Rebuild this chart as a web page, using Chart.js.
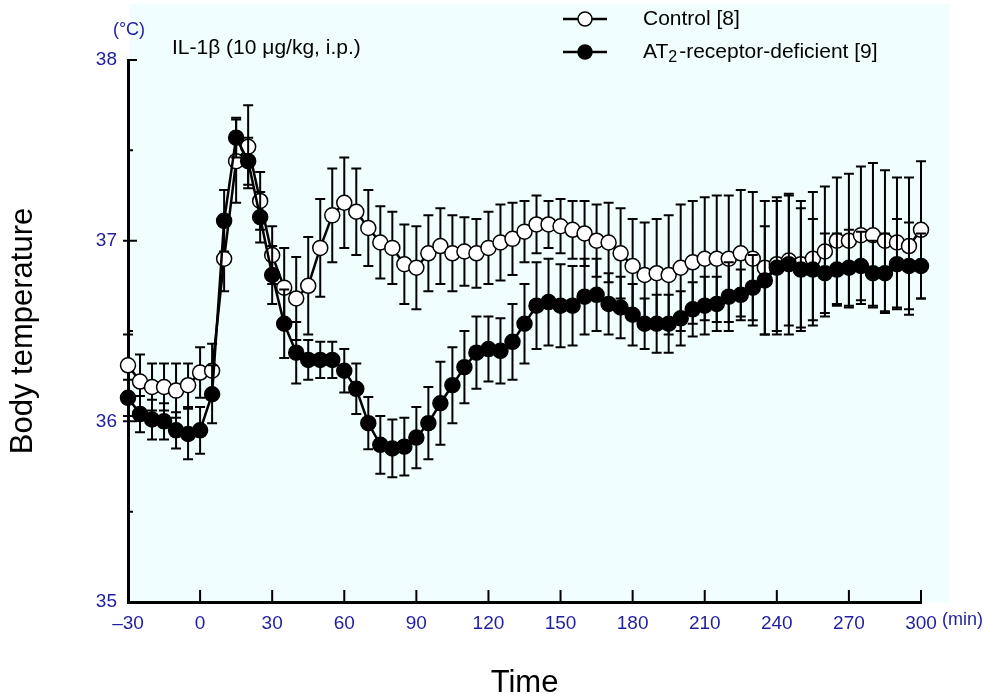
<!DOCTYPE html>
<html>
<head>
<meta charset="utf-8">
<script src="https://cdn.jsdelivr.net/npm/chart.js@4.4.1/dist/chart.umd.min.js"></script>
<style>
  html, body { margin: 0; padding: 0; background: #fff; }
  canvas { display: block; }
</style>
</head>
<body>
<canvas id="chart" width="985" height="697"></canvas>
<script>
// Time after IL-1β injection (min)
const times = [
  -30, -25, -20, -15, -10, -5, 0, 5, 10, 15, 20, 25, 30, 35, 40, 45, 50, 55, 60, 65,
  70, 75, 80, 85, 90, 95, 100, 105, 110, 115, 120, 125, 130, 135, 140, 145, 150, 155,
  160, 165, 170, 175, 180, 185, 190, 195, 200, 205, 210, 215, 220, 225, 230, 235, 240,
  245, 250, 255, 260, 265, 270, 275, 280, 285, 290, 295, 300
];

// Control [8]: mean and SEM (°C)
const controlMean = [
  36.31, 36.22, 36.19, 36.19, 36.17, 36.20, 36.27, 36.28, 36.90, 37.44, 37.52, 37.22, 36.92, 36.74, 36.68, 36.75, 36.96, 37.14, 37.21, 37.16,
  37.07, 36.99, 36.96, 36.87, 36.85, 36.93, 36.97, 36.93, 36.94, 36.93, 36.96, 36.99, 37.01, 37.05, 37.09, 37.09, 37.08, 37.06,
  37.04, 37.00, 36.99, 36.93, 36.86, 36.81, 36.82, 36.81, 36.85, 36.88, 36.90, 36.90, 36.90, 36.93, 36.90, 36.85, 36.87,
  36.89, 36.87, 36.90, 36.94, 37.00, 37.00, 37.03, 37.03, 37.00, 36.99, 36.97, 37.06
];
const controlSem = [
  0.17, 0.15, 0.13, 0.13, 0.15, 0.12, 0.14, 0.15, 0.18, 0.23, 0.23, 0.16, 0.16, 0.22, 0.23, 0.27, 0.27, 0.26, 0.25, 0.24,
  0.21, 0.20, 0.20, 0.22, 0.23, 0.21, 0.21, 0.21, 0.19, 0.19, 0.20, 0.21, 0.20, 0.17, 0.16, 0.13, 0.15, 0.16,
  0.18, 0.20, 0.22, 0.25, 0.26, 0.29, 0.30, 0.33, 0.35, 0.34, 0.34, 0.35, 0.35, 0.35, 0.37, 0.37, 0.37,
  0.36, 0.35, 0.37, 0.36, 0.35, 0.37, 0.38, 0.40, 0.39, 0.36, 0.38, 0.38
];

// AT2-receptor-deficient [9]: mean and SEM (°C)
const at2Mean = [
  36.13, 36.04, 36.01, 36.00, 35.95, 35.93, 35.95, 36.15, 37.11, 37.57, 37.44, 37.13, 36.81, 36.54, 36.38, 36.34, 36.34, 36.34, 36.28, 36.18,
  35.99, 35.87, 35.85, 35.86, 35.91, 35.99, 36.10, 36.20, 36.30, 36.38, 36.40, 36.39, 36.44, 36.54, 36.64, 36.66, 36.64, 36.64,
  36.69, 36.70, 36.65, 36.63, 36.59, 36.54, 36.54, 36.54, 36.57, 36.62, 36.64, 36.65, 36.69, 36.70, 36.74, 36.78, 36.85,
  36.87, 36.84, 36.84, 36.82, 36.84, 36.85, 36.86, 36.82, 36.82, 36.87, 36.86, 36.86
];
const at2Sem = [
  0.10, 0.10, 0.11, 0.10, 0.10, 0.14, 0.13, 0.16, 0.17, 0.11, 0.13, 0.14, 0.16, 0.19, 0.17, 0.11, 0.10, 0.10, 0.12, 0.14,
  0.145, 0.16, 0.16, 0.16, 0.17, 0.20, 0.23, 0.21, 0.20, 0.20, 0.18, 0.18, 0.21, 0.22, 0.24, 0.24, 0.23, 0.22,
  0.21, 0.20, 0.17, 0.17, 0.17, 0.14, 0.16, 0.16, 0.15, 0.15, 0.16, 0.15, 0.19, 0.14, 0.18, 0.30, 0.37,
  0.39, 0.34, 0.28, 0.22, 0.20, 0.21, 0.19, 0.18, 0.22, 0.25, 0.24, 0.18
];

const BLUE = '#1e1ea0';
const FONT = "'Liberation Sans', Arial, Helvetica, sans-serif";

// light panel behind the plot
const background = {
  id: 'background',
  beforeDraw(chart) {
    const {ctx, chartArea: a} = chart;
    ctx.save();
    ctx.fillStyle = '#f1fefe';
    ctx.fillRect(a.left + 1, 4, a.right - a.left + 27, a.bottom - 4);
    ctx.restore();
  }
};

// ticks: y crosses the axis, x points inward
const axisTicks = {
  id: 'axisTicks',
  beforeDatasetsDraw(chart) {
    const {ctx, scales: {x, y}, chartArea: a} = chart;
    ctx.save();
    ctx.strokeStyle = '#000';
    ctx.lineWidth = 2;
    ctx.beginPath();
    y.ticks.forEach(t => {
      if (t.value === 35) return;
      const py = y.getPixelForValue(t.value);
      const major = Number.isInteger(t.value);
      ctx.moveTo(a.left - (major && t.value !== 38 ? 5 : 0), py);
      ctx.lineTo(a.left + (major ? 9 : 5), py);
    });
    x.ticks.forEach(t => {
      if (t.value === -30) return;
      const px = x.getPixelForValue(t.value);
      ctx.moveTo(px, a.bottom);
      ctx.lineTo(px, a.bottom - 12);
    });
    ctx.stroke();
    ctx.restore();
  }
};

// SEM bars, drawn just before each dataset's line and points
const errorBars = {
  id: 'errorBars',
  beforeDatasetDraw(chart, args) {
    const ds = chart.data.datasets[args.index];
    const y = chart.scales.y;
    const ctx = chart.ctx;
    ctx.save();
    ctx.strokeStyle = '#000';
    ctx.lineWidth = 2;
    ctx.beginPath();
    args.meta.data.forEach((pt, i) => {
      const v = ds.data[i].y, e = ds.sem[i];
      const top = y.getPixelForValue(v + e);
      const bot = y.getPixelForValue(v - e);
      ctx.moveTo(pt.x, top); ctx.lineTo(pt.x, bot);
      ctx.moveTo(pt.x - 5, top); ctx.lineTo(pt.x + 5, top);
      ctx.moveTo(pt.x - 5, bot); ctx.lineTo(pt.x + 5, bot);
    });
    ctx.stroke();
    ctx.restore();
  }
};

// units, treatment note and legend
const annotations = {
  id: 'annotations',
  afterDraw(chart) {
    const {ctx, scales: {x}} = chart;
    ctx.save();
    ctx.textBaseline = 'middle';

    ctx.fillStyle = BLUE;
    ctx.font = '18px ' + FONT;
    ctx.textAlign = 'center';
    ctx.fillText('(°C)', 129, 30);
    ctx.textAlign = 'left';
    ctx.fillText('(min)', x.getPixelForValue(300) + 21, 620);

    ctx.fillStyle = '#000';
    ctx.font = '21px ' + FONT;
    ctx.fillText('IL-1β (10 μg/kg, i.p.)', 172, 48);

    const rows = [
      {y: 19, ds: chart.data.datasets[0], parts: [['Control [8]']]},
      {y: 52, ds: chart.data.datasets[1], parts: [['AT'], ['2', true], ['-receptor-deficient [9]']]}
    ];
    rows.forEach(r => {
      ctx.strokeStyle = '#000';
      ctx.lineWidth = 2.5;
      ctx.beginPath();
      ctx.moveTo(563, r.y); ctx.lineTo(607, r.y);
      ctx.stroke();
      ctx.beginPath();
      ctx.arc(585, r.y, 7, 0, Math.PI * 2);
      ctx.fillStyle = r.ds.pointBackgroundColor;
      ctx.fill();
      ctx.lineWidth = 1.5;
      ctx.stroke();
      ctx.fillStyle = '#000';
      let tx = 643;
      r.parts.forEach(([t, sub]) => {
        ctx.font = (sub ? '16px ' : '21px ') + FONT;
        ctx.fillText(t, tx, r.y + (sub ? 6 : 0));
        tx += ctx.measureText(t).width + (sub ? 2 : 0);
      });
    });
    ctx.restore();
  }
};

const toPoints = (means) => times.map((t, i) => ({x: t, y: means[i]}));

new Chart(document.getElementById('chart'), {
  type: 'line',
  data: {
    datasets: [
      {
        label: 'Control [8]',
        data: toPoints(controlMean),
        sem: controlSem,
        borderColor: '#000',
        borderWidth: 2.5,
        pointRadius: 7.5,
        pointBackgroundColor: '#fff',
        pointBorderColor: '#000',
        pointBorderWidth: 1.5,
        tension: 0,
        clip: false,
        order: 2
      },
      {
        label: 'AT2-receptor-deficient [9]',
        data: toPoints(at2Mean),
        sem: at2Sem,
        borderColor: '#000',
        borderWidth: 2.5,
        pointRadius: 7.5,
        pointBackgroundColor: '#000',
        pointBorderColor: '#000',
        pointBorderWidth: 1.5,
        tension: 0,
        clip: false,
        order: 1
      }
    ]
  },
  options: {
    responsive: false,
    animation: false,
    devicePixelRatio: 1,
    layout: {padding: {left: 0, top: 60, right: 64, bottom: 0}},
    plugins: {legend: {display: false}, tooltip: {enabled: false}},
    scales: {
      x: {
        type: 'linear',
        min: -30,
        max: 300,
        grid: {display: false},
        border: {display: true, color: '#000', width: 3},
        ticks: {
          stepSize: 30,
          padding: 2,
          color: BLUE,
          font: {family: FONT, size: 19},
          maxRotation: 0,
          callback: v => (v < 0 ? '–' + Math.abs(v) : String(v))
        },
        title: {
          display: true,
          text: 'Time',
          color: '#000',
          font: {family: FONT, size: 31},
          padding: {top: 0, bottom: -5}
        },
        afterFit: s => { s.height = 95; }
      },
      y: {
        min: 35,
        max: 38,
        grid: {display: false},
        border: {display: true, color: '#000', width: 3},
        ticks: {
          stepSize: 0.5,
          padding: 3,
          color: BLUE,
          font: {family: FONT, size: 19},
          callback: v => (Number.isInteger(v) ? String(v) : '')
        },
        title: {
          display: true,
          text: 'Body temperature',
          color: '#000',
          font: {family: FONT, size: 31},
          padding: {top: 5, bottom: 0}
        },
        afterFit: s => { s.width = 128; }
      }
    }
  },
  plugins: [background, axisTicks, errorBars, annotations]
});
</script>
</body>
</html>
